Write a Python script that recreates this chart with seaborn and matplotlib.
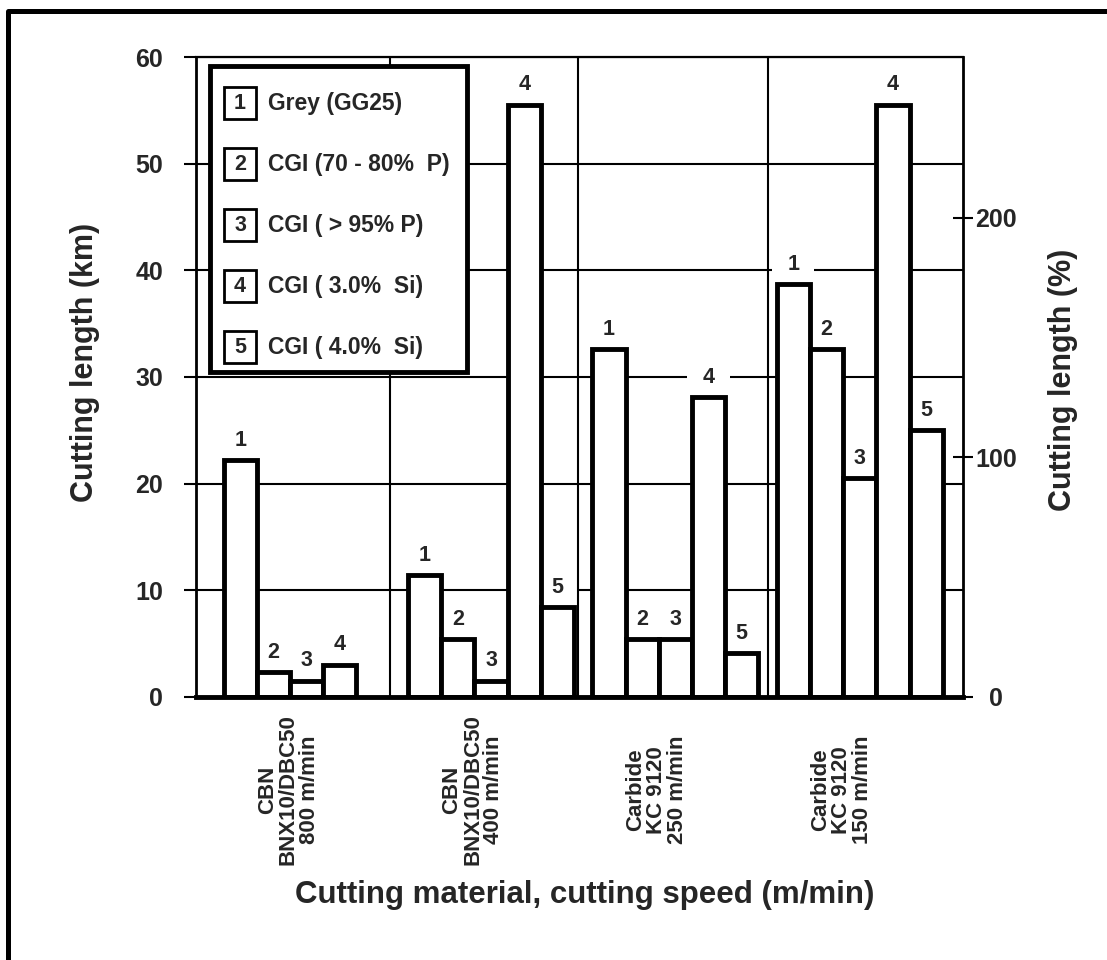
import numpy as np
import pandas as pd
import matplotlib.pyplot as plt
from matplotlib.patches import Rectangle
from matplotlib.lines import Line2D
import seaborn as sns

# cutting material / speed groups
groups = ['CBN\nBNX10/DBC50\n800 m/min',
          'CBN\nBNX10/DBC50\n400 m/min',
          'Carbide\nKC 9120\n250 m/min',
          'Carbide\nKC 9120\n150 m/min']
series = ['1', '2', '3', '4', '5']
series_names = ['Grey (GG25)', 'CGI (70 - 80%  P)', 'CGI ( > 95% P)',
                'CGI ( 3.0%  Si)', 'CGI ( 4.0%  Si)']

# cutting length in km
grey_gg25 = [22.2, 11.4, 32.6, 38.7]
cgi_70_80p = [2.3, 5.4, 5.4, 32.6]
cgi_95p = [1.5, 1.5, 5.4, 20.5]
cgi_3si = [3.0, 55.5, 28.1, 55.5]
cgi_4si = [np.nan, 8.4, 4.1, 25.0]

df = pd.DataFrame({
    'group': groups * 5,
    'series': np.repeat(series, len(groups)),
    'km': grey_gg25 + cgi_70_80p + cgi_95p + cgi_3si + cgi_4si,
}).dropna()

sns.set_theme(style='white')
plt.rcParams['font.family'] = ['Liberation Sans', 'DejaVu Sans']
plt.rcParams['font.weight'] = 'bold'
plt.rcParams['axes.labelweight'] = 'bold'

fig, ax = plt.subplots(figsize=(11.07, 9.6), dpi=100)
fig.subplots_adjust(left=0.1771, right=0.8699, bottom=0.2740, top=0.9406)

sns.barplot(data=df, x='group', y='km', hue='series', order=groups, hue_order=series,
            palette=['white'] * 5, saturation=1, edgecolor='black', linewidth=3.5,
            width=0.9, errorbar=None, legend=False, ax=ax)

# number above each bar
for lvl, cont in zip(series, ax.containers):
    for bar in cont:
        ax.annotate(lvl, (bar.get_x() + bar.get_width() / 2, bar.get_height()),
                    xytext=(0, 14.5), textcoords='offset points', ha='center', va='center',
                    fontsize=15.5, fontweight='bold', zorder=0.8,
                    bbox=dict(boxstyle='square,pad=0.7', fc='white', ec='none'))

ax.set_ylim(0, 60)
ax.set_xlim(-0.6, 3.56)
ax.set_yticks(range(0, 61, 10))
ax.set_xticks([i - 0.1 for i in range(len(groups))])
ax.set_xticklabels(groups, rotation=90, ha='center', va='center',
                   multialignment='center', linespacing=1.0, fontsize=16)
ax.set_axisbelow(True)
ax.grid(axis='y', which='major', color='black', lw=1.5)
ax.grid(axis='x', visible=False)
# group separators, kept above the white label boxes
for xs in [0.45, 1.47, 2.5]:
    ax.axvline(xs, color='black', lw=1.5, zorder=0.9)
ax.tick_params(axis='y', direction='out', length=8.6, width=1.5, pad=15,
               labelsize=18, left=True, color='black')
ax.tick_params(axis='x', which='both', length=0, pad=67)

for side, w in [('left', 2.0), ('top', 1.6), ('bottom', 3.5)]:
    ax.spines[side].set_color('black')
    ax.spines[side].set_linewidth(w)
ax.spines['right'].set_visible(False)

ax.set_xlabel('Cutting material, cutting speed (m/min)', fontsize=22.5)
ax.xaxis.set_label_coords(0.507, -0.309)
ax.xaxis.label.set_va('center')
ax.set_ylabel('Cutting length (km)', fontsize=22)
ax.yaxis.set_label_coords(-0.1447, 0.523)
ax.yaxis.label.set_va('center')

# right axis in percent
ax2 = ax.twinx()
ax2.set_ylim(0, 267)
ax2.set_yticks([0, 100, 200])
ax2.set_yticklabels(['0', '100', '200'], ha='center', fontsize=18)
ax2.tick_params(axis='y', direction='inout', length=14, width=1.5, pad=17, color='black')
for side in ['left', 'top', 'bottom']:
    ax2.spines[side].set_visible(False)
ax2.spines['right'].set_color('black')
ax2.spines['right'].set_linewidth(2.0)
ax2.set_ylabel('Cutting length (%)', fontsize=22)
ax2.yaxis.set_label_coords(1.130, 0.495)
ax2.yaxis.label.set_va('center')
ax2.yaxis.label.set_rotation(90)

# legend box
ax.add_patch(Rectangle((0.0183, 0.5078), 0.335, 0.478, transform=ax.transAxes,
                       fc='white', ec='black', lw=3.5, zorder=5))
for i, (num, name) in enumerate(zip(series, series_names)):
    yc = 0.928 - i * 0.0953
    ax.add_patch(Rectangle((0.0574 - 0.0205, yc - 0.025), 0.041, 0.05, transform=ax.transAxes,
                           fc='white', ec='black', lw=2, zorder=6))
    ax.text(0.0574, yc, num, transform=ax.transAxes, ha='center', va='center',
            fontsize=15.5, zorder=7)
    ax.text(0.0939, yc, name, transform=ax.transAxes, ha='left', va='center',
            fontsize=16.5, zorder=7)

# outer frame (top and left edges)
fig.add_artist(Line2D([7.5 / 1107, 7.5 / 1107, 1.2], [-0.1, 1 - 11 / 960, 1 - 11 / 960],
                      transform=fig.transFigure, color='black', lw=3.6))

fig.savefig('out.png', dpi=100)
